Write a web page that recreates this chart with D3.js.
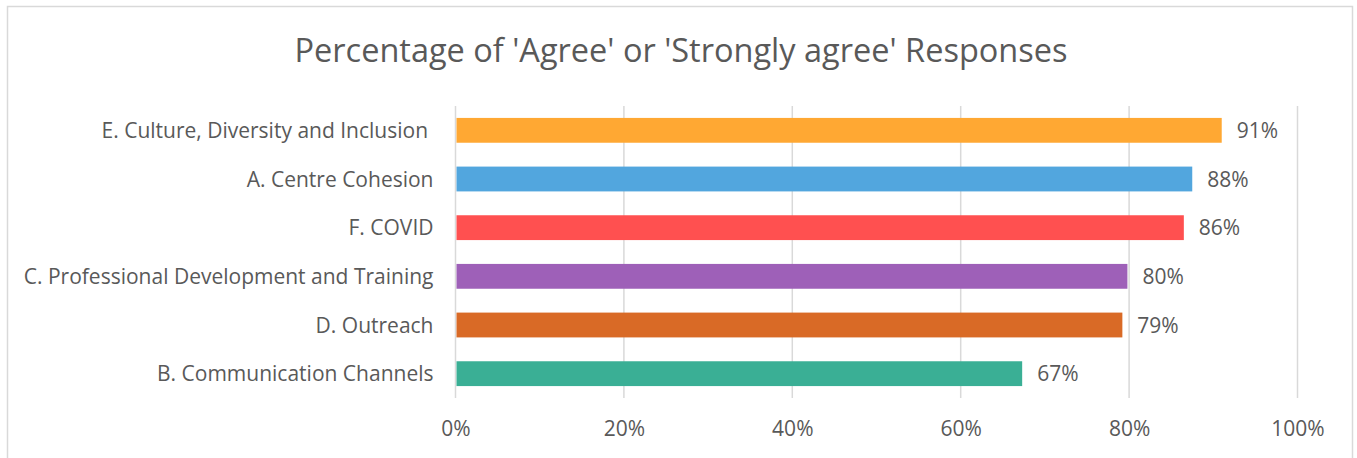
<!DOCTYPE html>
<html>
<head>
<meta charset="utf-8">
<script src="https://cdn.jsdelivr.net/npm/d3@7"></script>
<style>
  html, body { margin: 0; padding: 0; background: #fff; }
  svg { display: block; }
  text { font-family: "Open Sans", Lato, sans-serif; fill: #595959; }
</style>
</head>
<body>
<svg id="chart" width="1357" height="458"></svg>
<script>
const title = "Percentage of 'Agree' or 'Strongly agree' Responses";
const categories = [
  "E. Culture, Diversity and Inclusion ",
  "A. Centre Cohesion",
  "F. COVID",
  "C. Professional Development and Training",
  "D. Outreach",
  "B. Communication Channels"
];
const values = [0.91, 0.875, 0.865, 0.798, 0.792, 0.673];
const valueLabels = ["91%", "88%", "86%", "80%", "79%", "67%"];
const colors = ["#FFA833", "#52A6DE", "#FF5050", "#9E60B8", "#D96A26", "#3AAF95"];
const tickValues = [0, 0.2, 0.4, 0.6, 0.8, 1.0];

const svg = d3.select("#chart");
const FONT = "'Open Sans', Lato, sans-serif";
const FS = 21;

// chart border
svg.append("rect")
  .attr("x", 7.5).attr("y", 6.5)
  .attr("width", 1345).attr("height", 460)
  .attr("fill", "#fff").attr("stroke", "#d9d9d9").attr("stroke-width", 1.5);

const plot = { left: 455.5, right: 1297.5, top: 106, bottom: 398 };

const x = d3.scaleLinear().domain([0, 1]).range([plot.left, plot.right]);
const y = d3.scaleBand().domain(categories).range([plot.top, plot.bottom]).paddingInner(0.49).paddingOuter(0.245);

// gridlines
svg.append("g").selectAll("line").data(tickValues).join("line")
  .attr("x1", d => x(d)).attr("x2", d => x(d))
  .attr("y1", plot.top).attr("y2", plot.bottom)
  .attr("stroke", "#d9d9d9").attr("stroke-width", 1.5);

// bars
svg.append("g").selectAll("rect").data(categories).join("rect")
  .attr("x", x(0) + 1)
  .attr("y", c => y(c))
  .attr("width", (c, i) => x(values[i]) - x(0) - 1)
  .attr("height", y.bandwidth())
  .attr("fill", (c, i) => colors[i]);

// value labels
svg.append("g").selectAll("text").data(categories).join("text")
  .attr("x", (c, i) => x(values[i]) + 15)
  .attr("y", c => y(c) + y.bandwidth() / 2)
  .attr("dy", "0.36em")
  .attr("font-size", FS)
  .text((c, i) => valueLabels[i]);

// category axis
const yAxis = d3.axisLeft(y).tickSize(0).tickPadding(0);
const gy = svg.append("g").attr("transform", `translate(${plot.left - 22},0)`).call(yAxis);
gy.select(".domain").remove();
gy.selectAll("text").attr("font-size", FS).attr("fill", "#595959")
  .attr("font-family", FONT)
  .attr("dy", "0.36em")
  .style("white-space", "pre").attr("xml:space", "preserve");

// value axis
const xAxis = d3.axisBottom(x).tickValues(tickValues).tickFormat(d3.format(".0%")).tickSize(0).tickPadding(0);
const gx = svg.append("g").attr("transform", `translate(0,${plot.bottom + 23})`).call(xAxis);
gx.select(".domain").remove();
gx.selectAll("text").attr("font-size", FS).attr("fill", "#595959")
  .attr("font-family", FONT);

// title
svg.append("text")
  .attr("x", 681).attr("y", 62)
  .attr("text-anchor", "middle")
  .attr("font-size", 32.5)
  .text(title);
</script>
</body>
</html>
